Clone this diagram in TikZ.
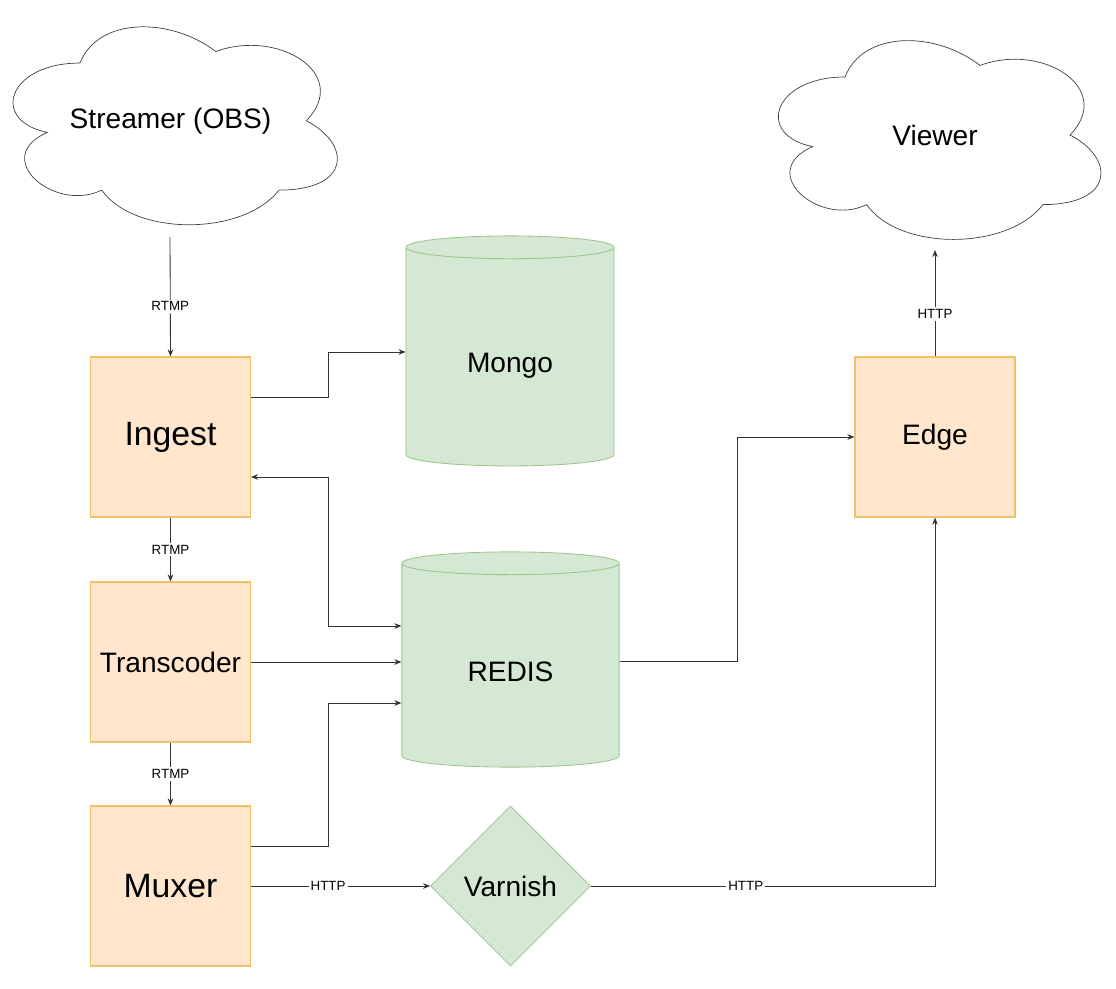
\documentclass[tikz,border=0pt]{standalone}
\usepackage{fontspec}
\setmainfont{Liberation Sans}
\usetikzlibrary{positioning,arrows.meta,shapes.geometric}
\definecolor{boxfill}{HTML}{FFE6CC}
\definecolor{boxline}{HTML}{EEC16A}
\definecolor{dbfill}{HTML}{D5E8D4}
\definecolor{dbline}{HTML}{9BC48A}
\definecolor{wire}{HTML}{333333}

% cloud outline: left, top, width, height
\newcommand{\cloudpath}[4]{%
  \draw[draw=black!75,line width=0.5pt]
    ({#1+0.25*#3},{#2+0.25*#4})
    .. controls ({#1+0.05*#3},{#2+0.25*#4}) and ({#1},{#2+0.5*#4}) .. ({#1+0.16*#3},{#2+0.55*#4})
    .. controls ({#1},{#2+0.66*#4}) and ({#1+0.18*#3},{#2+0.9*#4}) .. ({#1+0.31*#3},{#2+0.8*#4})
    .. controls ({#1+0.4*#3},{#2+#4}) and ({#1+0.7*#3},{#2+#4}) .. ({#1+0.8*#3},{#2+0.8*#4})
    .. controls ({#1+#3},{#2+0.8*#4}) and ({#1+#3},{#2+0.6*#4}) .. ({#1+0.875*#3},{#2+0.5*#4})
    .. controls ({#1+#3},{#2+0.3*#4}) and ({#1+0.8*#3},{#2+0.1*#4}) .. ({#1+0.625*#3},{#2+0.2*#4})
    .. controls ({#1+0.5*#3},{#2+0.05*#4}) and ({#1+0.3*#3},{#2+0.05*#4}) .. cycle;}

\begin{document}
\begin{tikzpicture}[
                x=0.025cm, y=-0.025cm,
                srv/.style={draw=boxline,fill=boxfill,line width=0.8pt,minimum width=4cm,minimum height=4cm,inner sep=0pt},
                db/.style={cylinder,shape border rotate=90,draw=dbline,fill=dbfill,line width=0.6pt,aspect=0.19,inner sep=1.5cm},
                big/.style={font=\fontsize{24}{28}\selectfont},
                mid/.style={font=\fontsize{20}{24}\selectfont},
                lbl/.style={fill=white,font=\fontsize{9.5}{10}\selectfont,inner sep=1.5pt},
                wire/.style={draw=wire,line width=0.6pt,-{Stealth[length=5pt,width=4pt]}}
            ]
                \useasboundingbox (0,0) rectangle (1116,988);

                % clouds
                \cloudpath{-10.5}{5.3}{362}{231}
                \cloudpath{755}{19}{360}{232}
                \node[mid] (obs)    at (170.5,121) {Streamer (OBS)};
                \node[mid] (viewer) at (935,135)   {Viewer};

                \node[srv,big] (ingest) at (170.5,437) {Ingest};
                \node[srv,mid] (trans)  at (170.5,662) {Transcoder};
                \node[srv,big] (muxer)  at (170.5,886) {Muxer};
                \node[srv,mid] (edge)   at (935,437)   {Edge};

                \node[db,minimum width=5.2cm,minimum height=5.75cm,label={[mid,yshift=-0.1cm]center:Mongo}] (mongo) at (510,362) {};
                \node[db,minimum width=5.43cm,minimum height=5.38cm,label={[mid,yshift=-0.025cm]center:REDIS}] (redis) at (510.5,670.5) {};

                \node[diamond,draw=dbline,fill=dbfill,line width=0.5pt,minimum width=4cm,minimum height=4cm,inner sep=0pt,mid] (varnish) at (510.5,886) {Varnish};

                \coordinate (obsout)  at (170,237);
                \coordinate (viewin)  at (935,250);

                \draw[wire] (obsout) -- node[lbl,pos=0.58] {RTMP} (ingest.north);
                \draw[wire] (ingest.south) -- node[lbl] {RTMP} (trans.north);
                \draw[wire] (trans.south) -- node[lbl] {RTMP} (muxer.north);

                \draw[wire] (ingest.east |- 0,397) -| (328,352) -- (mongo.west |- 0,352);
                \draw[wire,{Stealth[length=5pt,width=4pt]}-{Stealth[length=5pt,width=4pt]}] (ingest.east |- 0,477) -| (328,626) -- (redis.west |- 0,626);
                \draw[wire] (trans.east) -- (redis.west |- trans.east);
                \draw[wire] (muxer.east |- 0,846) -| (328,703) -- (redis.west |- 0,703);

                \draw[wire] (muxer.east) -- node[lbl,pos=0.43] {HTTP} (varnish.west);
                \draw[wire] (varnish.east) -- node[lbl,pos=0.45] {HTTP} (935,886) -- (edge.south);
                \draw[wire] (redis.east |- 0,661) -| (737,437) -- (edge.west);
                \draw[wire] (edge.north) -- node[lbl,pos=0.4] {HTTP} (viewin);
            \end{tikzpicture}
\end{document}
